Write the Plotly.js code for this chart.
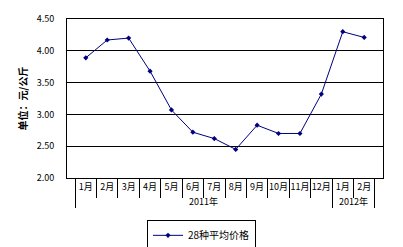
<!DOCTYPE html>
<html><head><meta charset="utf-8">
<script src="https://cdn.plot.ly/plotly-3.0.1.min.js"></script>
<style>body{margin:0;background:#fff}#c{width:403px;height:247px}</style>
</head><body><div id="c"></div>
<script>
const years = ['2011年','2011年','2011年','2011年','2011年','2011年','2011年','2011年','2011年','2011年','2011年','2011年','2012年','2012年'];
const months = ['1月','2月','3月','4月','5月','6月','7月','8月','9月','10月','11月','12月','1月','2月'];
const prices = [3.89,4.17,4.20,3.68,3.07,2.72,2.62,2.45,2.83,2.70,2.70,3.32,4.30,4.21];
const seriesName = '28种平均价格';
const f = 'SimSun, "Noto Sans CJK SC", sans-serif';
Plotly.newPlot('c', [{
  x: [years, months], y: prices, type: 'scatter', mode: 'lines+markers',
  name: seriesName, line: {color: '#000080', width: 1}, marker: {color: '#000080', size: 4, symbol: 'diamond'}
}], {
  width: 403, height: 247,
  margin: {l: 67, r: 20, t: 19, b: 69},
  paper_bgcolor: '#fff', plot_bgcolor: '#fff',
  font: {family: f, size: 9, color: '#000'},
  showlegend: true,
  legend: {orientation: 'h', x: 0.5, xanchor: 'center', xref: 'container', yref: 'container', y: 0.11, yanchor: 'top',
    bordercolor: '#000', borderwidth: 1, font: {size: 10}},
  xaxis: {type: 'multicategory', automargin: false, tickangle: 0, showline: true, linecolor: '#000', linewidth: 1, mirror: true,
    ticks: 'outside', tickson: 'boundaries', ticklen: 19, tickcolor: '#000',
    showdividers: true, dividercolor: '#000', dividerwidth: 1, showgrid: false, tickfont: {size: 9}},
  yaxis: {automargin: false, range: [2, 4.5], dtick: 0.5, tickformat: '.2f', showgrid: true, gridcolor: '#000', gridwidth: 1,
    showline: true, linecolor: '#000', mirror: true, ticks: '', zeroline: false, ticklabelstandoff: 10,
    title: {text: '单位：元/公斤', font: {size: 10, weight: 'bold'}, standoff: 7}, tickfont: {size: 9}}
}, {staticPlot: true});
</script></body></html>
